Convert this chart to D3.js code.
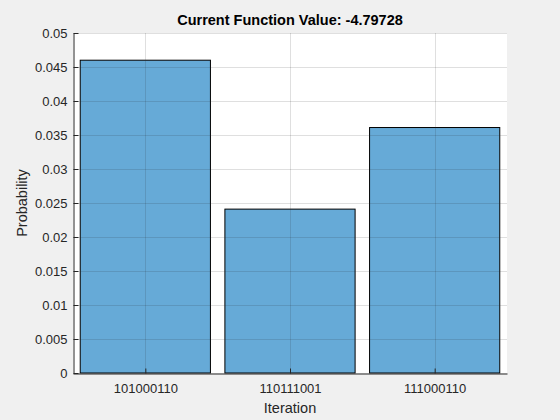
<!DOCTYPE html>
<html>
<head>
<meta charset="utf-8">
<script src="https://cdn.jsdelivr.net/npm/d3@7"></script>
<style>
  body { margin: 0; background: #f0f0f0; }
  text { font-family: "Liberation Sans", Arial, sans-serif; }
</style>
</head>
<body>
<div id="myChart"></div>
<script>
let width = 560;
let height = 420;

// data
const categories = ["101000110", "110111001", "111000110"];
const probabilities = [0.0460, 0.0241, 0.0361];
const yTicks = [0, 0.005, 0.01, 0.015, 0.02, 0.025, 0.03, 0.035, 0.04, 0.045, 0.05];
const titleText = "Current Function Value: -4.79728";

let margin = { left: 73, right: 53, top: 33, bottom: 47 };

let svg = d3.select("#myChart").append("svg")
  .attr("width", width)
  .attr("height", height)
  .style("background", "#f0f0f0");

var x = d3.scaleLinear()
  .domain([0.5, categories.length + 0.5])
  .range([margin.left, width - margin.right]);

var y = d3.scaleLinear()
  .domain([0, 0.05])
  .range([height - margin.bottom, margin.top]);

// plot background
svg.append("rect")
  .attr("x", margin.left)
  .attr("y", margin.top)
  .attr("width", width - margin.left - margin.right)
  .attr("height", height - margin.top - margin.bottom)
  .attr("fill", "white");

// bars
var bw = 0.9;
svg.append("g")
  .selectAll("rect")
  .data(probabilities)
  .enter()
  .append("rect")
  .attr("x", (d, i) => x(i + 1 - bw / 2))
  .attr("width", x(1 + bw / 2) - x(1 - bw / 2))
  .attr("y", d => y(d))
  .attr("height", d => y(0) - y(d))
  .attr("fill", "rgba(0,114,189,0.6)")
  .attr("stroke", "black")
  .attr("stroke-width", 1);

// grid (drawn on top, like matlab)
var grid = svg.append("g")
  .attr("stroke", "#262626")
  .attr("stroke-opacity", 0.15)
  .attr("stroke-width", 1);
grid.selectAll(".gy")
  .data(yTicks.slice(1))
  .enter()
  .append("line")
  .attr("x1", margin.left)
  .attr("x2", width - margin.right)
  .attr("y1", d => Math.round(y(d)) + 0.5)
  .attr("y2", d => Math.round(y(d)) + 0.5);
grid.selectAll(".gx")
  .data(categories)
  .enter()
  .append("line")
  .attr("x1", (d, i) => Math.round(x(i + 1)) + 0.5)
  .attr("x2", (d, i) => Math.round(x(i + 1)) + 0.5)
  .attr("y1", margin.top)
  .attr("y2", height - margin.bottom);

// axes
var yAxis = d3.axisLeft(y)
  .tickValues(yTicks)
  .tickFormat(d => d3.format("")(+d.toFixed(3)))
  .tickSizeInner(-5)
  .tickSizeOuter(0)
  .tickPadding(6);

var xAxis = d3.axisBottom(x)
  .tickValues(categories.map((d, i) => i + 1))
  .tickFormat((d, i) => categories[i])
  .tickSizeInner(-5)
  .tickSizeOuter(0)
  .tickPadding(10);

var gy = svg.append("g")
  .attr("transform", "translate(" + (margin.left + 0.5) + ",0)")
  .call(yAxis);
var gx = svg.append("g")
  .attr("transform", "translate(0," + (height - margin.bottom + 0.5) + ")")
  .call(xAxis);

[gx, gy].forEach(g => {
  g.attr("font-size", null);
  g.select(".domain").attr("stroke", "#262626");
  g.selectAll(".tick line").attr("stroke", "#262626");
  g.selectAll(".tick text")
    .attr("fill", "#262626")
    .style("font-size", "13px")
    .style("font-family", "'Liberation Sans', Arial, sans-serif");
});

// title and labels
svg.append("text")
  .attr("x", (margin.left + width - margin.right) / 2)
  .attr("y", 25)
  .attr("text-anchor", "middle")
  .style("font-size", "14.5px")
  .style("font-weight", "bold")
  .attr("fill", "black")
  .text(titleText);

svg.append("text")
  .attr("x", (margin.left + width - margin.right) / 2)
  .attr("y", 413)
  .attr("text-anchor", "middle")
  .style("font-size", "14.5px")
  .attr("fill", "#262626")
  .text("Iteration");

svg.append("text")
  .attr("transform", "translate(27," + ((margin.top + height - margin.bottom) / 2) + ") rotate(-90)")
  .attr("text-anchor", "middle")
  .style("font-size", "14.5px")
  .attr("fill", "#262626")
  .text("Probability");
</script>
</body>
</html>
